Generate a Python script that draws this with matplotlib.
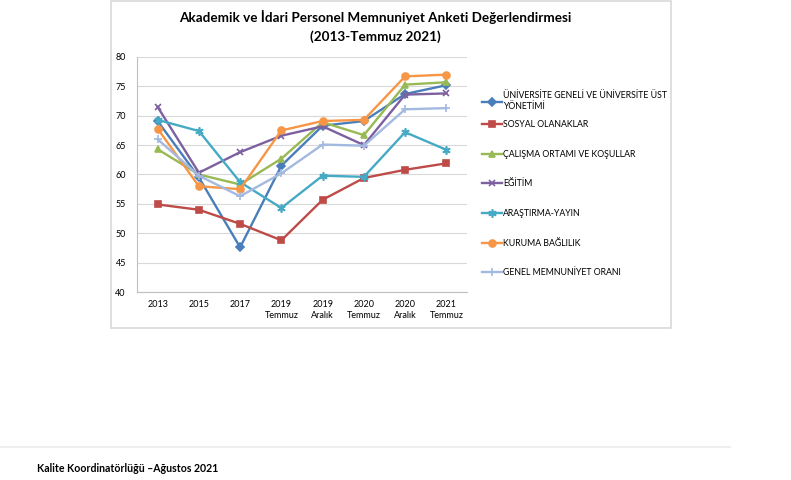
import matplotlib
matplotlib.use("Agg")
import matplotlib.pyplot as plt
from matplotlib.patches import Rectangle
from matplotlib.lines import Line2D

plt.rcParams['font.family'] = ['Lato', 'DejaVu Sans']

# data
periods = ["2013", "2015", "2017", "2019\nTemmuz", "2019\nAralık",
           "2020\nTemmuz", "2020\nAralık", "2021\nTemmuz"]

universite = [69.1, 59.5, 47.6, 61.5, 68.3, 69.1, 73.7, 75.2]
sosyal = [54.9, 54.0, 51.6, 48.8, 55.7, 59.4, 60.8, 61.9]
calisma = [64.3, 60.0, 58.3, 62.7, 68.9, 66.7, 75.3, 75.7]
egitim = [71.5, 60.3, 63.8, 66.6, 68.2, 65.0, 73.6, 73.8]
arastirma = [69.3, 67.4, 58.7, 54.3, 59.8, 59.6, 67.2, 64.2]
kuruma = [67.8, 58.0, 57.5, 67.5, 69.1, 69.3, 76.7, 77.0]
genel = [66.0, 59.8, 56.3, 60.2, 65.1, 64.9, 71.1, 71.3]

series = [
    ("ÜNİVERSİTE GENELİ VE ÜNİVERSİTE ÜST\nYÖNETİMİ", universite, "#4A7EBB", "D", 4),
    ("SOSYAL OLANAKLAR", sosyal, "#BE4B48", "s", 5),
    ("ÇALIŞMA ORTAMI VE KOŞULLAR", calisma, "#98B954", "^", 5),
    ("EĞİTİM", egitim, "#7D60A0", "x", 5),
    ("ARAŞTIRMA-YAYIN", arastirma, "#46AAC5", (6, 2, 0), 6),
    ("KURUMA BAĞLILIK", kuruma, "#F79646", "o", 5),
    ("GENEL MEMNUNİYET ORANI", genel, "#A3B9E0", "+", 6),
]

fig = plt.figure(figsize=(7.91, 4.80), dpi=100)

# chart frame
fig.patches.append(Rectangle((111/791, 1 - 328/480), 560/791, 327/480,
                             transform=fig.transFigure, fill=False,
                             edgecolor="#D9D9D9", linewidth=1.2))
# faint page line
fig.add_artist(Line2D([0, 730/791], [1 - 447/480, 1 - 447/480],
                      transform=fig.transFigure, color="#EFEFEF", lw=1.5))

ax = fig.add_axes([137/791, 1 - 292/480, 330/791, 235/480])
x = range(len(periods))
lines = []
for name, vals, col, mk, ms in series:
    ln, = ax.plot(x, vals, color=col, lw=1.7, marker=mk, markersize=ms,
                  markeredgewidth=1.2, label=name)
    lines.append(ln)

ax.set_ylim(40, 80)
ax.set_xlim(-0.5, len(periods) - 0.5)
ax.set_yticks(range(40, 81, 5))
ax.set_xticks(list(x))
ax.set_xticklabels(periods, fontsize=6.5, linespacing=1.3)
ax.tick_params(axis="y", labelsize=6.5, length=0, pad=8)
ax.tick_params(axis="x", length=0, pad=6)
ax.grid(axis="y", color="#D9D9D9", lw=0.8)
ax.set_axisbelow(True)
for s in ["top", "right"]:
    ax.spines[s].set_visible(False)
for s in ["left", "bottom"]:
    ax.spines[s].set_color("#BFBFBF")

fig.text(375/791, 1 - 17/480, "Akademik ve İdari Personel Memnuniyet Anketi Değerlendirmesi",
         ha="center", va="center", fontsize=9.7, fontweight="bold")
fig.text(375/791, 1 - 37/480, "(2013-Temmuz 2021)",
         ha="center", va="center", fontsize=9.7, fontweight="bold")

# legend: first (two-line) entry on its own, the rest evenly spaced
leg_kw = dict(loc="upper left", frameon=False, fontsize=6.3, handlelength=2.3,
              handletextpad=0.15, borderaxespad=0)
fig.legend(handles=lines[:1], bbox_to_anchor=(478/791, 1 - 88/480), **leg_kw)
fig.legend(handles=lines[1:], bbox_to_anchor=(478/791, 1 - 116.5/480),
           labelspacing=2.36, **leg_kw)

fig.text(37/791, 1 - 468/480, "Kalite Koordinatörlüğü –Ağustos 2021",
         ha="left", va="center", fontsize=7.6, fontweight="bold")

fig.savefig("out.png", dpi=100)
